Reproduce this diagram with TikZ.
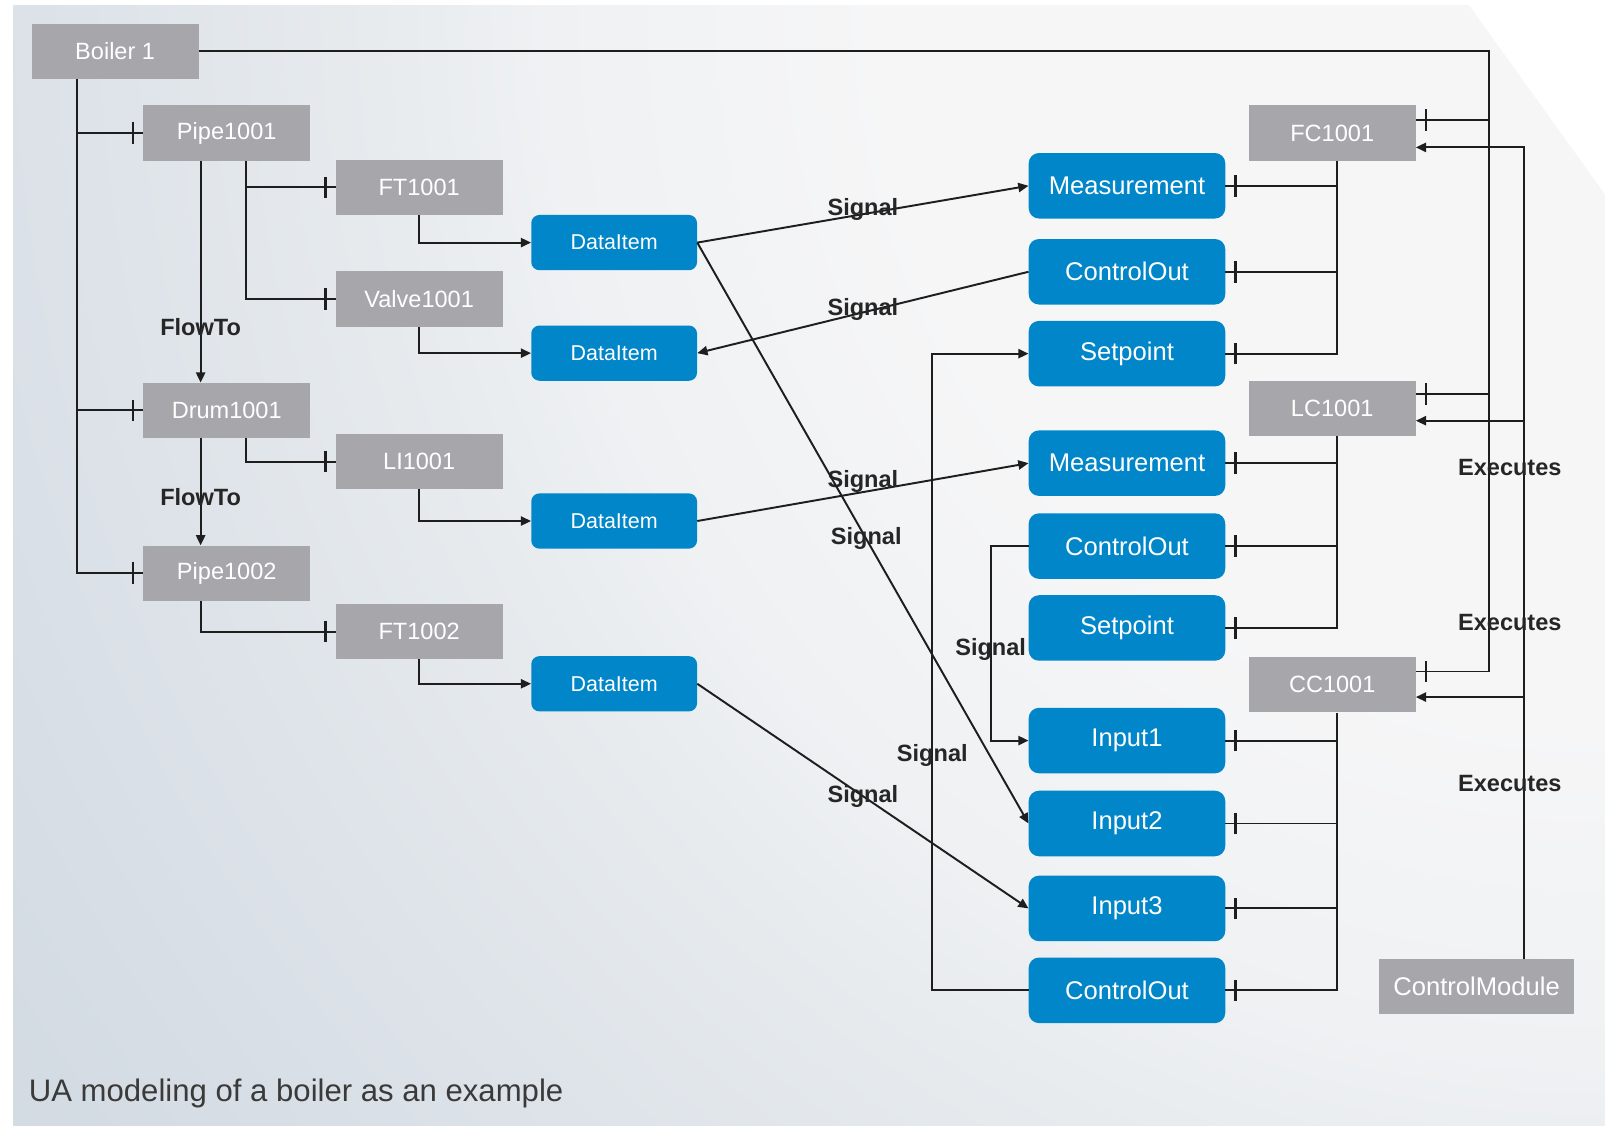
\documentclass[tikz,border=0pt]{standalone}
\usepackage{fontspec}
\setmainfont{Liberation Sans}
\usetikzlibrary{arrows.meta,decorations.markings,calc}
\definecolor{boxgrey}{HTML}{A7A6AA}
\definecolor{boxblue}{HTML}{0086C9}
\definecolor{lin}{HTML}{1E1E1E}
\definecolor{labc}{HTML}{262626}
\definecolor{capc}{HTML}{3A3A3A}
\definecolor{bgA}{HTML}{F6F6F7}
\definecolor{bgM}{HTML}{EFF1F3}
\definecolor{bgK}{HTML}{E7EBEE}
\definecolor{bgN}{HTML}{DFE4EA}
\definecolor{bgP}{HTML}{D7DEE5}
\definecolor{bgB}{HTML}{D2DAE2}
\pgfdeclareradialshading{bgshade}{\pgfpoint{0bp}{0bp}}{color(0bp)=(bgA); color(9bp)=(bgA); color(13.3bp)=(bgM); color(15.4bp)=(bgK); color(18.6bp)=(bgN); color(21.8bp)=(bgP); color(25bp)=(bgB); color(50bp)=(bgB)}
\begin{document}
\begin{tikzpicture}[x=1pt,y=-1pt,
  gbox/.style={fill=boxgrey, text=white, minimum width=163pt, minimum height=54pt, inner sep=0pt, font=\fontsize{23}{27}\selectfont},
  bbox/.style={fill=boxblue, text=white, rounded corners=10pt, minimum width=192pt, minimum height=64pt, inner sep=0pt, font=\fontsize{25}{29}\selectfont},
  dbox/.style={fill=boxblue, text=white, rounded corners=8pt, minimum width=162pt, minimum height=54pt, inner sep=0pt, font=\fontsize{21}{25}\selectfont},
  conn/.style={draw=lin, line width=1.9pt},
  arr/.style={conn, -{Triangle[length=10pt,width=9pt]}},
  tickend/.style={postaction={decorate, decoration={markings, mark=at position -10pt with {\draw[lin, line width=2.4pt] (0,-10.5) -- (0,10.5);}}}},
  lab/.style={text=labc, font=\bfseries\fontsize{23}{27}\selectfont, inner sep=0pt},
]
% background
\path[use as bounding box] (0,0) rectangle (1568,1100);
\fill[white] (0,0) rectangle (1568,1100);
\begin{scope}
\clip (13,5) -- (1435,5) -- (1568,190) -- (1568,1100) -- (13,1100) -- cycle;
\shade[shading=bgshade] (1568,0) circle (1950);
\end{scope}

% left grey boxes
\node[gbox] (boiler) at (112.5,50) {Boiler 1};
\node[gbox] (pipe1) at (221.5,130) {Pipe1001};
\node[gbox] (ft1) at (409.5,183) {FT1001};
\node[gbox] (valve) at (409.5,292) {Valve1001};
\node[gbox] (drum) at (221.5,401) {Drum1001};
\node[gbox] (li) at (409.5,451) {LI1001};
\node[gbox] (pipe2) at (221.5,560) {Pipe1002};
\node[gbox] (ft2) at (409.5,617) {FT1002};

% data items
\node[dbox] (di1) at (600,237) {DataItem};
\node[dbox] (di2) at (600,345) {DataItem};
\node[dbox] (di3) at (600,509) {DataItem};
\node[dbox] (di4) at (600,668) {DataItem};

% right blue boxes
\node[bbox] (m1) at (1101,181.5) {Measurement};
\node[bbox] (co1) at (1101,265.5) {ControlOut};
\node[bbox] (sp1) at (1101,345.5) {Setpoint};
\node[bbox] (m2) at (1101,452.5) {Measurement};
\node[bbox] (co2) at (1101,533.5) {ControlOut};
\node[bbox] (sp2) at (1101,613.5) {Setpoint};
\node[bbox] (in1) at (1101,723.5) {Input1};
\node[bbox] (in2) at (1101,804.5) {Input2};
\node[bbox] (in3) at (1101,887.5) {Input3};
\node[bbox] (co3) at (1101,967.5) {ControlOut};

% controllers
\node[gbox] (fc) at (1301.5,130) {FC1001};
\node[gbox] (lc) at (1301.5,399) {LC1001};
\node[gbox] (cc) at (1301.5,669) {CC1001};
\node[gbox, minimum width=191pt, font=\fontsize{25}{29}\selectfont] (cm) at (1442.5,964) {ControlModule};

% boiler left trunk
\coordinate (lt) at (75,560);
\draw[conn,tickend] (boiler.south -| lt) -- (lt) -- (pipe2.west);
\draw[conn,tickend] (pipe1.west -| lt) -- (pipe1.west);
\draw[conn,tickend] (drum.west -| lt) -- (drum.west);

% FlowTo
\draw[arr] ([xshift=-25.5pt]pipe1.south) -- ([xshift=-25.5pt]drum.north) node[lab, pos=0.75] (fl1) {FlowTo};
\draw[arr] ([xshift=-25.5pt]drum.south) -- ([xshift=-25.5pt]pipe2.north) node[lab, pos=0.55] (fl2) {FlowTo};

% pipe1 -> ft1, valve
\coordinate (p1j) at ([xshift=18.5pt]pipe1.south);
\draw[conn,tickend] (p1j) |- (valve.west);
\draw[conn,tickend] (p1j |- ft1.west) -- (ft1.west);
% drum -> li
\coordinate (drj) at ([xshift=18.5pt]drum.south);
\draw[conn,tickend] (drj) |- (li.west);
% pipe2 -> ft2
\draw[conn,tickend] ([xshift=-25.5pt]pipe2.south) |- (ft2.west);

% transmitters -> data items
\draw[arr] (ft1.south) |- (di1.west);
\draw[arr] (valve.south) |- (di2.west);
\draw[arr] (li.south) |- (di3.west);
\draw[arr] (ft2.south) |- (di4.west);

% signals
\draw[arr] (di1.east) -- (m1.west) node[lab, pos=0.5, yshift=5pt] (s1) {Signal};
\draw[arr] (co1.west) -- (di2.east) node[lab, pos=0.5, yshift=3pt] (s2) {Signal};
\draw[arr] (di3.east) -- (m2.west) node[lab, pos=0.5, yshift=10pt] (s3) {Signal};
\draw[arr] (di1.east) -- (in2.west) node[lab, pos=0.51] (s4) {Signal};
\draw[arr] (di4.east) -- (in3.west) node[lab, pos=0.5] (s5) {Signal};
\coordinate (c2a) at ([xshift=-37pt]co2.west);
\draw[arr] (co2.west) -- (c2a) -- (c2a |- in1.west) node[lab, pos=0.53] (s6) {Signal} -- (in1.west);
\coordinate (c3a) at ([xshift=-94pt]co3.west);
\draw[arr] (co3.west) -- (c3a) -- (c3a |- sp1.west) node[lab, pos=0.369] (s7) {Signal} -- (sp1.west);

% controllers -> members
\coordinate (fcj) at ([xshift=4.5pt]fc.south);
\draw[conn,tickend] (fcj) |- (sp1.east);
\draw[conn,tickend] (fcj |- m1.east) -- (m1.east);
\draw[conn,tickend] (fcj |- co1.east) -- (co1.east);
\coordinate (lcj) at ([xshift=4.5pt]lc.south);
\draw[conn,tickend] (lcj) |- (sp2.east);
\draw[conn,tickend] (lcj |- m2.east) -- (m2.east);
\draw[conn,tickend] (lcj |- co2.east) -- (co2.east);
\coordinate (ccj) at ([xshift=4.5pt]cc.south);
\draw[conn,tickend] (ccj) |- (co3.east);
\draw[conn,tickend] (ccj |- in1.east) -- (in1.east);
\draw[conn,tickend] (ccj |- in2.east) -- (in2.east);
\draw[conn,tickend] (ccj |- in3.east) -- (in3.east);

% boiler -> controllers
\coordinate (cct) at ([yshift=13pt]cc.east);
\coordinate (bj) at ([xshift=71.5pt]cct);
\coordinate (fct) at ([yshift=13pt]fc.east);
\coordinate (lct) at ([yshift=14pt]lc.east);
\draw[conn,tickend] (boiler.east) -| (bj) -- (cct);
\draw[conn,tickend] (fct -| bj) -- (fct);
\draw[conn,tickend] (lct -| bj) -- (lct);

% control module executes
\coordinate (cmj) at ([xshift=46.5pt]cm.north);
\coordinate (fca) at ([yshift=-14pt]fc.east);
\coordinate (lca) at ([yshift=-12pt]lc.east);
\coordinate (cca) at ([yshift=-12pt]cc.east);
\draw[arr] (cmj) |- (fca);
\draw[arr] (cmj |- lca) -- (lca);
\draw[arr] (cmj |- cca) -- (cca);
\node[lab] (ex1) at (1475,457) {Executes};
\node[lab] (ex2) at (1475,608) {Executes};
\node[lab] (ex3) at (1475,765) {Executes};

% caption
\node[anchor=west, text=capc, font=\fontsize{30.4}{34}\selectfont, inner sep=0pt] (cap) at (28,1068) {UA modeling of a boiler as an example};
\end{tikzpicture}
\end{document}
